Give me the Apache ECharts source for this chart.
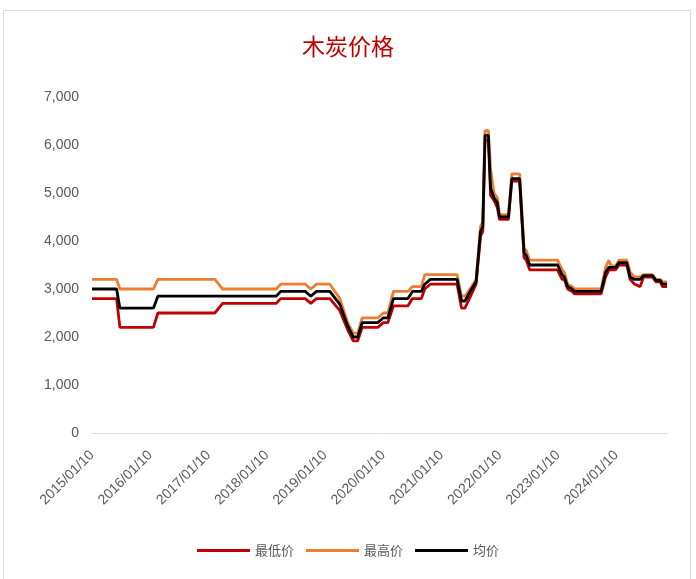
<!DOCTYPE html>
<html>
<head>
<meta charset="utf-8">
<script src="https://cdn.jsdelivr.net/npm/echarts@6/dist/echarts.min.js"></script>
<style>
  html, body { margin: 0; padding: 0; background: #fff; }
  #chart { width: 696px; height: 579px; }
</style>
</head>
<body>
<div id="chart"></div>
<script>
// Weekly charcoal price series (yuan/ton), sampled at the dates where the price moves
const dates = [
  '2015-01-10','2015-06-13','2015-07-04','2016-01-30','2016-02-27','2017-02-18','2017-04-08',
  '2018-03-10','2018-04-07','2018-09-08','2018-10-13','2018-11-17','2019-02-09','2019-04-13',
  '2019-06-01','2019-07-06','2019-08-03','2019-08-31','2019-12-07','2020-01-11','2020-02-08',
  '2020-03-14','2020-06-13','2020-07-11','2020-09-05','2020-09-26','2020-10-31','2021-04-17',
  '2021-05-15','2021-06-05','2021-07-17','2021-08-14','2021-09-11','2021-09-25','2021-10-09',
  '2021-10-30','2021-11-13','2021-12-04','2021-12-25','2022-01-08','2022-03-05','2022-03-26',
  '2022-05-14','2022-06-11','2022-06-25','2022-07-16','2023-01-07','2023-02-04','2023-02-18',
  '2023-03-11','2023-04-08','2023-04-22','2023-10-07','2023-11-04','2023-11-25','2023-12-09',
  '2024-01-06','2024-01-27','2024-03-16','2024-04-06','2024-05-04','2024-06-08','2024-06-29',
  '2024-08-24','2024-09-14','2024-10-12','2024-10-26','2024-11-23'
];
const lowPrice = [
  2800,2800,2200,2200,2500,2500,2700,
  2700,2800,2800,2700,2800,2800,2550,
  2150,1920,1920,2200,2200,2300,2300,
  2650,2650,2800,2800,3000,3100,3100,
  2600,2600,2900,3100,4100,4200,6100,
  6100,4950,4850,4700,4450,4450,5250,
  5250,3650,3600,3400,3400,3200,3200,
  3000,2950,2900,2900,3250,3400,3400,
  3400,3500,3500,3200,3100,3050,3250,
  3250,3150,3150,3050,3050
];
const highPrice = [
  3200,3200,3000,3000,3200,3200,3000,
  3000,3100,3100,3000,3100,3100,2800,
  2300,2080,2080,2400,2400,2500,2500,
  2950,2950,3050,3050,3300,3300,3300,
  2850,2850,3050,3200,4300,4400,6300,
  6300,5500,5000,4900,4550,4550,5400,
  5400,3850,3800,3600,3600,3400,3350,
  3100,3050,3000,3000,3450,3600,3480,
  3480,3600,3600,3350,3250,3250,3300,
  3300,3200,3200,3150,3150
];
const avgPrice = [
  3000,3000,2600,2600,2850,2850,2850,
  2850,2950,2950,2850,2950,2950,2680,
  2230,2000,2000,2300,2300,2400,2400,
  2800,2800,2950,2950,3100,3200,3200,
  2750,2750,3000,3150,4200,4300,6200,
  6200,5100,4900,4800,4500,4500,5300,
  5300,3750,3700,3500,3500,3300,3250,
  3050,3000,2950,2950,3350,3450,3450,
  3450,3550,3550,3250,3200,3200,3280,
  3280,3180,3180,3100,3100
];
const seriesNames = ['最低价', '最高价', '均价'];
const tickLabels = [
  '2015/01/10','2016/01/10','2017/01/10','2018/01/10','2019/01/10',
  '2020/01/10','2021/01/10','2022/01/10','2023/01/10','2024/01/10'
];

// dates are placed on a numeric axis as milliseconds (UTC midnight)
const toTime = (s) => {
  const p = s.split(/[-\/]/).map(Number);
  return Date.UTC(p[0], p[1] - 1, p[2]);
};
const pair = (vals) => dates.map((d, i) => [toTime(d), vals[i]]);
const tickValues = tickLabels.map(toTime);
const pad = (n) => (n < 10 ? '0' : '') + n;

const chart = echarts.init(document.getElementById('chart'), null, { renderer: 'canvas' });
chart.setOption({
  backgroundColor: '#ffffff',
  animation: false,
  title: {
    text: '木炭价格',
    left: 'center',
    top: 30,
    textStyle: {
      fontFamily: 'Noto Sans CJK SC',
      fontSize: 23,
      fontWeight: 'normal',
      color: '#C00000'
    }
  },
  graphic: [{
    type: 'rect',
    shape: { x: 3.5, y: 10.5, width: 687, height: 600 },
    style: { fill: null, stroke: '#d9d9d9', lineWidth: 1 },
    silent: true
  }],
  legend: {
    data: seriesNames,
    left: 'center',
    top: 539,
    icon: 'rect',
    itemWidth: 53,
    itemHeight: 3,
    itemGap: 12,
    textStyle: { fontFamily: 'Noto Sans CJK SC', fontSize: 13, color: '#595959' }
  },
  grid: { left: 92, right: 29, top: 97, bottom: 146 },
  xAxis: {
    type: 'value',
    min: toTime(dates[0]),
    max: toTime(dates[dates.length - 1]),
    axisLine: { show: true, onZero: false, lineStyle: { color: '#d9d9d9', width: 1 } },
    axisTick: { show: false },
    splitLine: { show: false },
    axisLabel: {
      customValues: tickValues,
      rotate: 45,
      margin: 20,
      showMinLabel: true,
      showMaxLabel: true,
      hideOverlap: false,
      fontFamily: 'Liberation Sans',
      fontSize: 14,
      color: '#595959',
      formatter: function (v) {
        const d = new Date(v);
        return d.getUTCFullYear() + '/' + pad(d.getUTCMonth() + 1) + '/' + pad(d.getUTCDate());
      }
    }
  },
  yAxis: {
    type: 'value',
    min: 0,
    max: 7000,
    interval: 1000,
    axisLine: { show: false },
    axisTick: { show: false },
    splitLine: { show: false },
    axisLabel: {
      margin: 13,
      fontFamily: 'Liberation Sans',
      fontSize: 14,
      color: '#595959',
      formatter: (v) => v.toLocaleString('en-US')
    }
  },
  series: [
    { name: seriesNames[0], type: 'line', data: pair(lowPrice), showSymbol: false,
      lineStyle: { color: '#C00000', width: 2.8 }, itemStyle: { color: '#C00000' } },
    { name: seriesNames[1], type: 'line', data: pair(highPrice), showSymbol: false,
      lineStyle: { color: '#ED7D31', width: 2.8 }, itemStyle: { color: '#ED7D31' } },
    { name: seriesNames[2], type: 'line', data: pair(avgPrice), showSymbol: false,
      lineStyle: { color: '#000000', width: 2.8 }, itemStyle: { color: '#000000' } }
  ]
});
</script>
</body>
</html>
